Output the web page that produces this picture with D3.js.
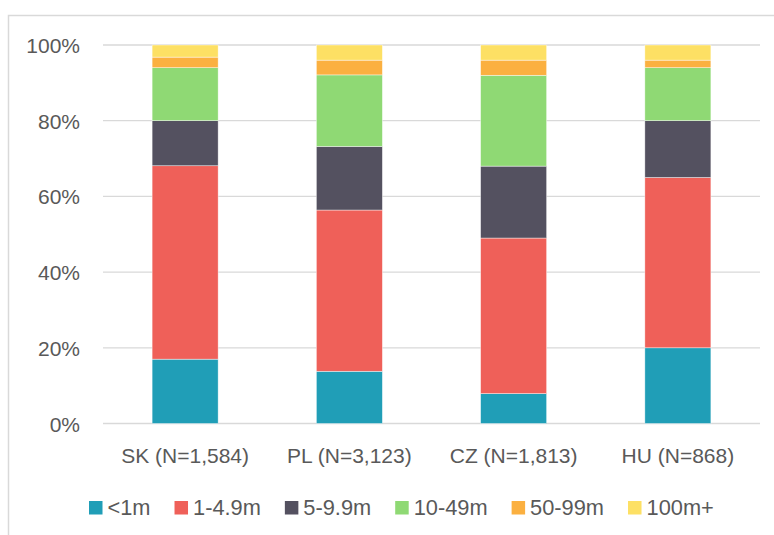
<!DOCTYPE html>
<html>
<head>
<meta charset="utf-8">
<script src="https://cdn.jsdelivr.net/npm/d3@7"></script>
<style>
  html, body { margin: 0; padding: 0; background: #fff; }
  svg { display: block; }
  text { font-family: "Liberation Sans", Arial, sans-serif; fill: #595959; }
</style>
</head>
<body>
<svg id="chart" width="774" height="535"></svg>
<script>
// Firm size shares by country (percent of firms)
const categories = ["SK (N=1,584)", "PL (N=3,123)", "CZ (N=1,813)", "HU (N=868)"];
const seriesNames = ["<1m", "1-4.9m", "5-9.9m", "10-49m", "50-99m", "100m+"];
const seriesColors = ["#209EB7", "#EF6059", "#545160", "#8FD974", "#FBB040", "#FDE064"];
const lt1m    = [17.0, 13.8,  7.9, 20.0];
const m1to5   = [51.1, 42.6, 41.1, 45.0];
const m5to10  = [11.9, 16.8, 19.0, 15.0];
const m10to50 = [14.0, 18.9, 24.0, 14.0];
const m50to100= [ 2.8,  3.9,  4.0,  2.0];
const m100plus= [ 3.2,  4.0,  4.0,  4.0];
const yTicks = [0, 20, 40, 60, 80, 100];

const seriesValues = [lt1m, m1to5, m5to10, m10to50, m50to100, m100plus];
const rows = categories.map((c, i) => {
  const r = { category: c };
  seriesNames.forEach((s, k) => { r[s] = seriesValues[k][i]; });
  return r;
});

const svg = d3.select("#chart");
const plotLeft = 103, plotRight = 760, plotTop = 45, plotBottom = 423.5;

// Outer chart frame (top and left edges visible)
svg.append("path")
  .attr("d", "M8.5,535 V15.5 H774")
  .attr("fill", "none")
  .attr("stroke", "#d9d9d9")
  .attr("stroke-width", 1.5);

const x = d3.scaleBand().domain(categories).range([plotLeft, plotRight])
  .paddingInner(0.598).paddingOuter(0.299);
const y = d3.scaleLinear().domain([0, 100]).range([plotBottom, plotTop]);

// Gridlines
svg.append("g").selectAll("line").data(yTicks).join("line")
  .attr("x1", plotLeft).attr("x2", plotRight)
  .attr("y1", d => y(d)).attr("y2", d => y(d))
  .attr("stroke", "#d9d9d9").attr("stroke-width", 1.3);

// Y axis labels
const yAxis = d3.axisLeft(y).tickValues(yTicks).tickFormat(d => d + "%").tickSize(0).tickPadding(0);
const gy = svg.append("g").attr("transform", `translate(80,0)`).call(yAxis);
gy.select(".domain").remove();
gy.selectAll("text").attr("font-size", 21).attr("font-family", "Liberation Sans, Arial, sans-serif")
  .attr("fill", "#595959").attr("dy", "0.36em");

// Stacked bars
const stack = d3.stack().keys(seriesNames)(rows);
svg.append("g").selectAll("g").data(stack).join("g")
  .attr("fill", (d, i) => seriesColors[i])
  .selectAll("rect").data(d => d).join("rect")
  .attr("x", d => x(d.data.category))
  .attr("width", x.bandwidth())
  .attr("y", d => y(d[1]))
  .attr("height", d => y(d[0]) - y(d[1]))
  .attr("stroke", "#ffffff").attr("stroke-width", 0.6).attr("stroke-opacity", 0.7);

// X axis labels
const xAxis = d3.axisBottom(x).tickSize(0).tickPadding(0);
const gx = svg.append("g").attr("transform", `translate(0,462.5)`).call(xAxis);
gx.select(".domain").remove();
gx.selectAll("text").attr("font-size", 21).attr("font-family", "Liberation Sans, Arial, sans-serif")
  .attr("fill", "#595959").attr("dy", 0);

// Legend
const legend = svg.append("g").attr("transform", "translate(89,0)");
let lx = 0;
seriesNames.forEach((name, i) => {
  const g = legend.append("g").attr("transform", `translate(${lx},0)`);
  g.append("rect").attr("x", 0).attr("y", 501).attr("width", 13.5).attr("height", 13.5)
    .attr("fill", seriesColors[i]);
  const t = g.append("text").attr("x", 18.5).attr("y", 515)
    .attr("font-size", 21.8).text(name);
  lx += 18.5 + t.node().getComputedTextLength() + 24;
});
</script>
</body>
</html>
